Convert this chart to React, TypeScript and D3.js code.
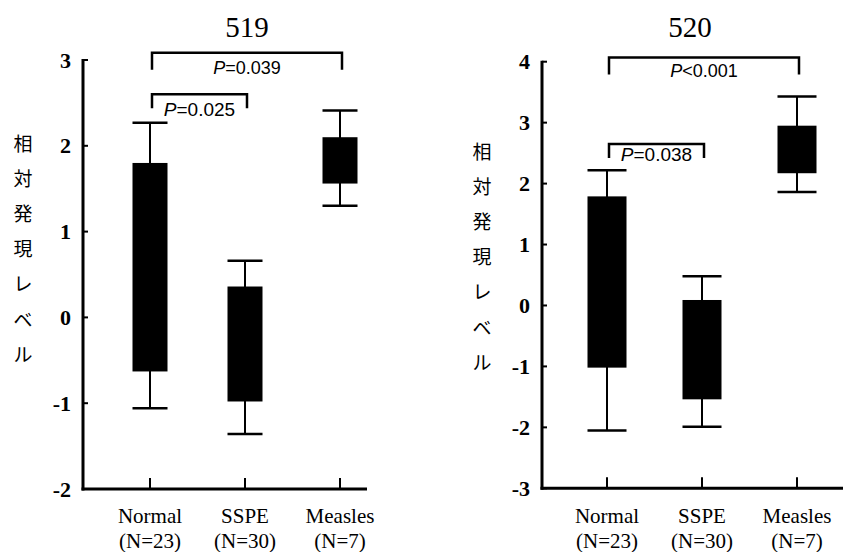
import React from "react";
import * as d3 from "d3";

const categories = ["Normal", "SSPE", "Measles"];
const nLabels = ["(N=23)", "(N=30)", "(N=7)"];
const yLabelChars = ["相", "対", "発", "現", "レ", "ベ", "ル"];

// panel 519
const titleA = "519";
const ticksA = [-2, -1, 0, 1, 2, 3];
const whiskerLowA = [-1.06, -1.36, 1.3];
const boxLowA = [-0.63, -0.98, 1.56];
const boxHighA = [1.8, 0.36, 2.1];
const whiskerHighA = [2.27, 0.66, 2.41];
const bracketsA = [
  { from: "Normal", to: "Measles", level: 3.085, label: "0.039", op: "=" },
  { from: "Normal", to: "SSPE", level: 2.6, label: "0.025", op: "=" },
];

// panel 520
const titleB = "520";
const ticksB = [-3, -2, -1, 0, 1, 2, 3, 4];
const whiskerLowB = [-2.05, -1.99, 1.86];
const boxLowB = [-1.02, -1.54, 2.17];
const boxHighB = [1.79, 0.09, 2.95];
const whiskerHighB = [2.22, 0.48, 3.43];
const bracketsB = [
  { from: "Normal", to: "Measles", level: 4.07, label: "0.001", op: "<" },
  { from: "Normal", to: "SSPE", level: 2.65, label: "0.038", op: "=" },
];

type Bracket = { from: string; to: string; level: number; label: string; op: string };

type PanelProps = {
  title: string;
  ticks: number[];
  wl: number[];
  bl: number[];
  bh: number[];
  wh: number[];
  brackets: Bracket[];
  axisX: number;
  axisEnd: number;
  yTop: number;
  yBottom: number;
  xFirst: number;
  xLast: number;
  boxW: number;
  titleX: number;
  labelX: number;
  labelY0: number;
  legs: number[];
  labelOffsets: number[];
  pSizes: number[];
};

function Panel(p: PanelProps) {
  const y = d3
    .scaleLinear()
    .domain([d3.min(p.ticks)!, d3.max(p.ticks)!])
    .range([p.yBottom, p.yTop]);
  const x = d3.scalePoint<string>().domain(categories).range([p.xFirst, p.xLast]);
  const serif = "'Liberation Serif', 'Times New Roman', serif";
  const sans = "'Liberation Sans', Arial, sans-serif";
  return (
    <g>
      <text x={p.titleX} y={37} textAnchor="middle" fontFamily={serif} fontSize={29} fill="#000">
        {p.title}
      </text>
      {/* y label */}
      {yLabelChars.map((c, i) => (
        <text
          key={i}
          x={p.labelX}
          y={p.labelY0 + i * 35.2}
          textAnchor="middle"
          dominantBaseline="central"
          fontFamily="'Noto Sans CJK JP', sans-serif"
          fontSize={19}
          fill="#000"
        >
          {c}
        </text>
      ))}
      {/* axes */}
      <line x1={p.axisX} x2={p.axisX} y1={y(d3.max(p.ticks)!) - 1} y2={p.yBottom + 1.5} stroke="#000" strokeWidth={3} />
      <line x1={p.axisX - 1.5} x2={p.axisEnd} y1={p.yBottom} y2={p.yBottom} stroke="#000" strokeWidth={3} />
      {p.ticks.map((t) => (
        <g key={t}>
          <line x1={p.axisX} x2={p.axisX + 5} y1={y(t)} y2={y(t)} stroke="#000" strokeWidth={2} />
          <text
            x={p.axisX - 12}
            y={y(t)}
            textAnchor="end"
            dominantBaseline="central"
            fontFamily={serif}
            fontWeight="bold"
            fontSize={22}
            fill="#000"
          >
            {t}
          </text>
        </g>
      ))}
      {categories.map((c, i) => (
        <g key={c}>
          <line x1={x(c)} x2={x(c)} y1={p.yBottom} y2={p.yBottom - 11} stroke="#000" strokeWidth={2} />
          <text x={x(c)} y={523} textAnchor="middle" fontFamily={serif} fontSize={21} fill="#000">
            {c}
          </text>
          <text x={x(c)} y={548} textAnchor="middle" fontFamily={serif} fontSize={21} fill="#000">
            {nLabels[i]}
          </text>
        </g>
      ))}
      {/* boxes */}
      {categories.map((c, i) => {
        const cx = x(c)!;
        const hw = p.boxW / 2;
        return (
          <g key={c}>
            <line x1={cx} x2={cx} y1={y(p.wh[i])} y2={y(p.wl[i])} stroke="#000" strokeWidth={2} />
            <line x1={cx - hw} x2={cx + hw} y1={y(p.wh[i])} y2={y(p.wh[i])} stroke="#000" strokeWidth={2.5} />
            <line x1={cx - hw} x2={cx + hw} y1={y(p.wl[i])} y2={y(p.wl[i])} stroke="#000" strokeWidth={2.5} />
            <rect x={cx - hw} y={y(p.bh[i])} width={p.boxW} height={y(p.bl[i]) - y(p.bh[i])} fill="#000" />
          </g>
        );
      })}
      {/* brackets */}
      {p.brackets.map((b, i) => {
        const x1 = x(b.from)! + 2;
        const x2 = x(b.to)! + 2;
        const by = y(b.level);
        return (
          <g key={i}>
            <path
              d={`M${x1},${by + p.legs[i]}V${by}H${x2}V${by + p.legs[i]}`}
              fill="none"
              stroke="#000"
              strokeWidth={2.5}
            />
            <text
              x={(x1 + x2) / 2}
              y={by + p.labelOffsets[i]}
              textAnchor="middle"
              fontFamily={sans}
              fontSize={p.pSizes[i]}
              fill="#000"
            >
              <tspan fontStyle="italic">P</tspan>
              {b.op + b.label}
            </text>
          </g>
        );
      })}
    </g>
  );
}

export default function App() {
  return (
    <svg
      width={850}
      height={552}
      style={{ position: "absolute", left: 0, top: 0, background: "#fff" }}
    >
      <rect width={850} height={552} fill="#fff" />
      <Panel
        title={titleA}
        ticks={ticksA}
        wl={whiskerLowA}
        bl={boxLowA}
        bh={boxHighA}
        wh={whiskerHighA}
        brackets={bracketsA}
        axisX={83}
        axisEnd={367}
        yTop={60}
        yBottom={489}
        xFirst={150}
        xLast={340}
        boxW={35}
        titleX={247}
        labelX={23}
        labelY0={142}
        legs={[17, 14]}
        labelOffsets={[21, 22]}
        pSizes={[18, 19]}
      />
      <Panel
        title={titleB}
        ticks={ticksB}
        wl={whiskerLowB}
        bl={boxLowB}
        bh={boxHighB}
        wh={whiskerHighB}
        brackets={bracketsB}
        axisX={542}
        axisEnd={843}
        yTop={61.7}
        yBottom={488.3}
        xFirst={607}
        xLast={797}
        boxW={39}
        titleX={690}
        labelX={482}
        labelY0={150}
        legs={[17, 14]}
        labelOffsets={[20, 17]}
        pSizes={[18, 19]}
      />
    </svg>
  );
}
